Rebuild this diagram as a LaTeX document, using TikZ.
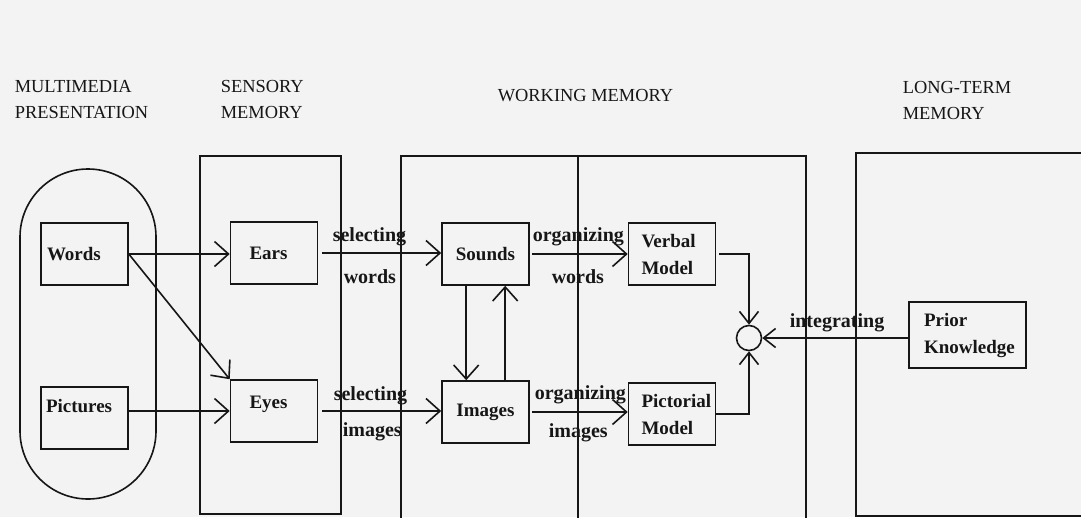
\documentclass[tikz,border=0pt]{standalone}
\usepackage{fontspec}
\setmainfont{Liberation Serif}
\usetikzlibrary{arrows.meta,calc}
\definecolor{bgc}{RGB}{243,243,243}
\definecolor{ink}{RGB}{22,22,22}
\begin{document}
\begin{tikzpicture}[x=1pt,y=-1pt,line width=1.6pt,
  box/.style={draw=ink,line width=1.6pt,minimum width=87pt,minimum height=62pt,inner ysep=0pt,
    font=\fontsize{19}{27}\selectfont\bfseries,text=ink},
  lbox/.style={box,align=left,inner xsep=3pt,text width=#1},
  title/.style={font=\fontsize{18.4}{26}\selectfont,align=left,anchor=base west,inner sep=0pt,text=ink},
  elab/.style={font=\fontsize{20}{24}\selectfont\bfseries,anchor=base west,inner sep=0pt,text=ink},
  container/.style={draw=ink,line width=1.6pt},
  arr/.style={draw=ink,-{Straight Barb[length=14pt,width=25pt]}},
  sarr/.style={draw=ink,-{Straight Barb[length=12pt,width=19pt]}}]
\fill[bgc] (0,0) rectangle (1081,517);
\clip (0,0) rectangle (1081,517);
\useasboundingbox (0,0) rectangle (1081,517);

% titles (base anchor = last line)
\node[title] (t1) at (14,118) {MULTIMEDIA\\PRESENTATION};
\node[title] (t2) at (220,118) {SENSORY\\MEMORY};
\node[title] (t3) at (497,101) {WORKING MEMORY};
\node[title] (t4) at (902,119) {LONG-TERM\\MEMORY};

% containers
\node[container,rounded corners=68pt,minimum width=136pt,minimum height=330pt] (mm) at (88,334) {};
\node[container,minimum width=141pt,minimum height=358pt] (sm) at (270.5,335) {};
\draw[container] (401,530) -- (401,156) -- (806,156) -- (806,530);
\draw[container] (578,156) -- (578,530);
\draw[container] (1095,153) -- (856,153) -- (856,516) -- (1095,516);

% boxes
\node[lbox=81pt] (words) at (84.5,254) {\hspace*{3pt}Words};
\node[lbox=81pt,text height=13pt,text depth=24pt] (pictures) at (84.5,418) {\hspace*{2pt}Pictures};
\node[lbox=81pt] (ears) at (274,253) {\hspace*{16pt}Ears};
\node[lbox=81pt,text height=13pt,text depth=18pt] (eyes) at (274,411) {\hspace*{16pt}Eyes};
\node[box] (sounds) at (485.5,254) {Sounds};
\node[box] (images) at (485.5,412) {Images};
\node[lbox=81pt] (verbal) at (672,254) {\hspace*{10pt}Verbal\\\hspace*{10pt}Model};
\node[lbox=81pt] (pictorial) at (672,414) {\hspace*{10pt}Pictorial\\\hspace*{10pt}Model};
\node[lbox=111pt,minimum height=66pt] (pk) at (967.5,335) {\hspace*{12pt}Prior\\\hspace*{12pt}Knowledge};
\node[circle,draw=ink,line width=1.6pt,minimum size=25pt,inner sep=0pt] (int) at (749,338) {};

% connectors
\draw[arr] (words.east) -- (ears.west |- words.east);
\draw[arr] (words.east) -- (eyes.north west);
\draw[arr] (pictures.east |- eyes.west) -- (eyes.west);
\draw[arr] ([xshift=4pt]ears.east) -- (sounds.west |- ears.east);
\draw[arr] ([xshift=4pt]eyes.east) -- (images.west |- eyes.east);
\draw[arr] ($(sounds.south west)+(25,0)$) -- ($(images.north west)+(25,0)$);
\draw[arr] ($(images.north west)+(64,0)$) -- ($(sounds.south west)+(64,0)$);
\draw[arr] ([xshift=2pt]sounds.east) -- (verbal.west);
\draw[arr] ([xshift=2pt]images.east) -- (pictorial.west |- images.east);
\draw[sarr] ([xshift=3pt]verbal.east) -| (int.north);
\draw[sarr] (pictorial.east) -| (int.south);
\draw[sarr] (pk.west |- int.east) -- (int.east);

% labels
\node[elab] (l1) at (332,241) {selecting};
\node[elab] (l2) at (343,283) {words};
\node[elab] (l3) at (333,400) {selecting};
\node[elab] (l4) at (342,436) {images};
\node[elab] (l5) at (532,241) {organizing};
\node[elab] (l6) at (551,283) {words};
\node[elab] (l7) at (534,399) {organizing};
\node[elab] (l8) at (548,437) {images};
\node[elab] (l9) at (789,327) {integrating};
\end{tikzpicture}
\end{document}
